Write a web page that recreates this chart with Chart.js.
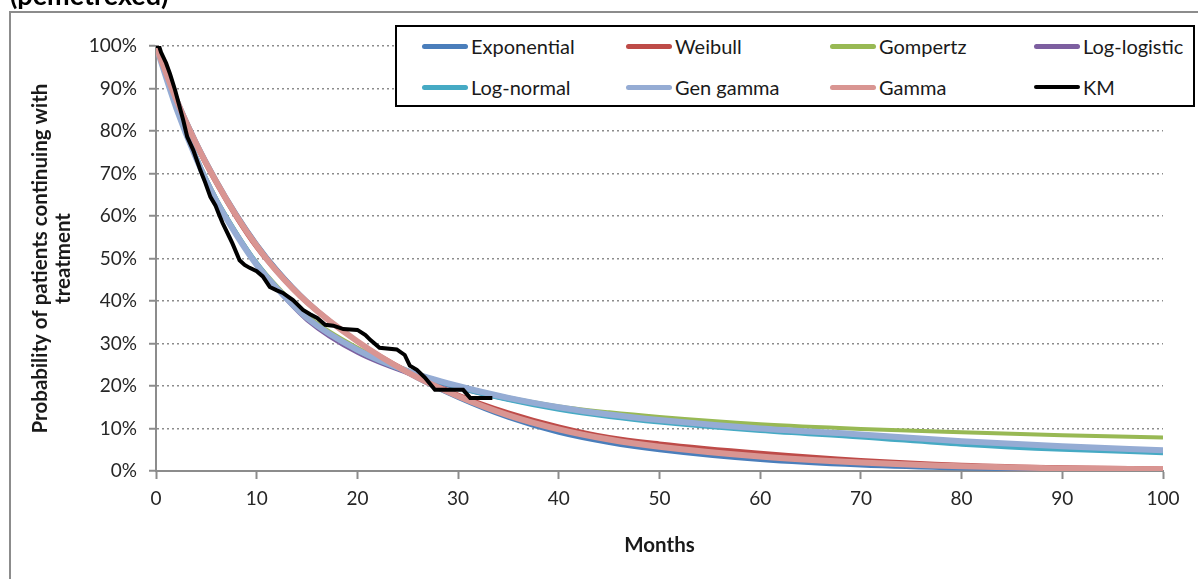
<!DOCTYPE html>
<html>
<head>
<meta charset="utf-8">
<script src="https://cdn.jsdelivr.net/npm/chart.js@4/dist/chart.umd.min.js"></script>
<style>
  html, body { margin: 0; padding: 0; background: #fff; overflow: hidden; }
  #wrap { position: relative; width: 1198px; height: 579px; }
  #frame { position: absolute; left: 9px; top: 11px; width: 1200px; height: 600px; border: 2px solid #8c8c8c; box-sizing: border-box; }
  #heading { position: absolute; left: 10px; top: -22px; font: bold 27px Lato, sans-serif; color: #000; white-space: nowrap; }
  #key { position: absolute; left: 395px; top: 25px; width: 800px; height: 82px; border: 2px solid #000; background: #fff; box-sizing: border-box; }
  .item { position: absolute; display: flex; align-items: center; font: 20px Lato, sans-serif; color: #1a1a1a; white-space: nowrap; }
  .swatch { width: 46px; height: 5px; border-radius: 3px; margin-right: 3px; }
</style>
</head>
<body>
<div id="wrap">
  <div id="heading">(pemetrexed)</div>
  <div id="frame"></div>
  <canvas id="surv" width="1198" height="579"></canvas>
  <div id="key"></div>
</div>
<script>
// months at which the fitted curves were read
let months = [0, 2, 4, 6, 8, 10, 12, 15, 20, 25, 30, 35, 40, 45, 50, 60, 70, 80, 90, 100];

let exponential = [100, 88, 77.5, 68.5, 60.5, 53.5, 47.5, 40, 30.5, 23, 17.2, 12.5, 9, 6.6, 4.9, 2.6, 1.3, 0.6, 0.3, 0.15];
let weibull     = [100, 87, 76.5, 67.5, 59.5, 52.5, 46.8, 39.5, 30.5, 23.5, 18, 13.8, 10.5, 8, 6.5, 4.3, 2.6, 1.5, 0.9, 0.6];
let gompertz    = [100, 86, 74, 64, 56, 49, 43.5, 36.5, 29, 23.7, 20, 17.3, 15.2, 13.8, 12.7, 11, 9.9, 9.1, 8.4, 7.9];
let logLogistic = [100, 85.5, 73.5, 63.5, 55.5, 48.5, 42.8, 35.5, 27.8, 23, 19.5, 16.8, 14.7, 13, 11.7, 9.7, 8.3, 6.6, 5.4, 4.5];
let logNormal   = [100, 86, 74, 64, 56, 49, 43.2, 36, 28.3, 23.2, 19.6, 16.7, 14.4, 12.7, 11.4, 9.4, 7.9, 6.2, 5, 4.2];
let genGamma    = [100, 85.5, 73.5, 63.5, 55.5, 48.5, 43, 36, 28.5, 23.5, 20, 17.2, 15, 13.3, 12, 10, 8.6, 7, 5.8, 4.9];
let gamma       = [100, 87.5, 77, 68, 60, 53, 47, 39.7, 30.5, 23.2, 17.6, 13.1, 9.8, 7.4, 5.7, 3.4, 2.0, 1.1, 0.6, 0.4];

// Kaplan-Meier estimate: [month, % still on treatment]
let kmMonths = [0, 0.3, 0.5, 1.0, 1.4, 1.9, 2.7, 3.1, 3.7, 4.4, 4.9, 5.4, 5.9, 6.2, 6.6, 7.3, 7.6, 8.3, 8.8, 9.3, 10.0, 10.6, 11.3, 12.0, 12.6, 13.6, 14.6, 15.3, 16.0, 16.8, 17.6, 18.6, 20.0, 20.8, 21.3, 22.2, 23.9, 24.7, 25.2, 25.9, 26.7, 27.7, 30.5, 31.2, 33.4];
let kmValues = [100, 100, 98.5, 96, 93.4, 89.6, 82.6, 78.6, 75.5, 70.8, 67.8, 64.5, 62.5, 60.7, 58.4, 55, 53.5, 49.6, 48.5, 47.8, 47, 45.8, 43.3, 42.5, 41.9, 40.2, 37.9, 36.9, 36, 34.4, 34.2, 33.4, 33.2, 32, 30.8, 29, 28.6, 27.3, 24.8, 23.8, 22, 19.1, 19.1, 17.2, 17.2];

let xTicks = [0, 10, 20, 30, 40, 50, 60, 70, 80, 90, 100];

let series = [
  { name: "Exponential", values: exponential, color: "#4A7EBB", width: 4 },
  { name: "Weibull",     values: weibull,     color: "#BE4B48", width: 4 },
  { name: "Gompertz",    values: gompertz,    color: "#98B954", width: 4 },
  { name: "Log-logistic",values: logLogistic, color: "#7D5FA0", width: 4 },
  { name: "Log-normal",  values: logNormal,   color: "#46AAC4", width: 4 },
  { name: "Gen gamma",   values: genGamma,    color: "#95ACD4", width: 6 },
  { name: "Gamma",       values: gamma,       color: "#D99592", width: 6 }
];

let datasets = series.map((s, i) => ({
  label: s.name,
  data: months.map((m, j) => ({ x: m, y: s.values[j] })),
  borderColor: s.color,
  borderWidth: s.width,
  pointRadius: 0,
  cubicInterpolationMode: "monotone",
  order: 10 - i // later series sit on top
}));
datasets.push({
  label: "KM",
  data: kmMonths.map((m, j) => ({ x: m, y: kmValues[j] })),
  borderColor: "#000",
  borderWidth: 4,
  pointRadius: 0,
  tension: 0,
  order: 0
});

const tickFont = { family: "Lato, sans-serif", size: 19 };
const titleFont = { family: "Lato, sans-serif", size: 20.5, weight: "bold", lineHeight: 1.12 };

new Chart(document.getElementById("surv"), {
  type: "line",
  data: { datasets: datasets },
  options: {
    responsive: false,
    animation: false,
    layout: { padding: { left: 10, top: 46, right: 35, bottom: 0 } },
    plugins: { legend: { display: false }, tooltip: { enabled: false } },
    scales: {
      x: {
        type: "linear",
        min: 0, max: 100,
        afterBuildTicks: axis => { axis.ticks = xTicks.map(v => ({ value: v })); },
        afterFit: axis => { axis.height = 108; },
        ticks: { font: tickFont, color: "#262626", padding: 8, maxRotation: 0 },
        grid: { drawOnChartArea: false, tickColor: "#8c8c8c", tickWidth: 2, tickLength: 8 },
        border: { color: "#8c8c8c", width: 2 },
        title: { display: true, text: "Months", font: titleFont, color: "#1a1a1a", padding: { top: 0, bottom: 22 } }
      },
      y: {
        min: 0, max: 100,
        afterFit: axis => { axis.width = 146; },
        ticks: { stepSize: 10, font: tickFont, color: "#262626", padding: 12, callback: v => v + "%" },
        grid: { color: "#8c8c8c", lineWidth: 1.5, tickColor: "#8c8c8c", tickWidth: 2, tickLength: 7, tickBorderDash: [] },
        border: { color: "#8c8c8c", width: 2, dash: [2, 3] },
        title: { display: true, text: ["Probability of patients continuing with", "treatment"], font: titleFont, color: "#1a1a1a", padding: { top: 19, bottom: 0 } }
      }
    }
  }
});

// legend box: four columns, two rows
const key = document.getElementById("key");
datasets.forEach((d, i) => {
  const col = i % 4, row = Math.floor(i / 4);
  const item = document.createElement("div");
  item.className = "item";
  item.style.left = (25 + col * 204) + "px";
  item.style.top = (row === 0 ? 7 : 48) + "px";
  const sw = document.createElement("span");
  sw.className = "swatch";
  sw.style.background = d.borderColor;
  if (d.label === "KM") sw.style.height = "4px";
  item.appendChild(sw);
  item.appendChild(document.createTextNode(d.label));
  key.appendChild(item);
});
</script>
</body>
</html>
